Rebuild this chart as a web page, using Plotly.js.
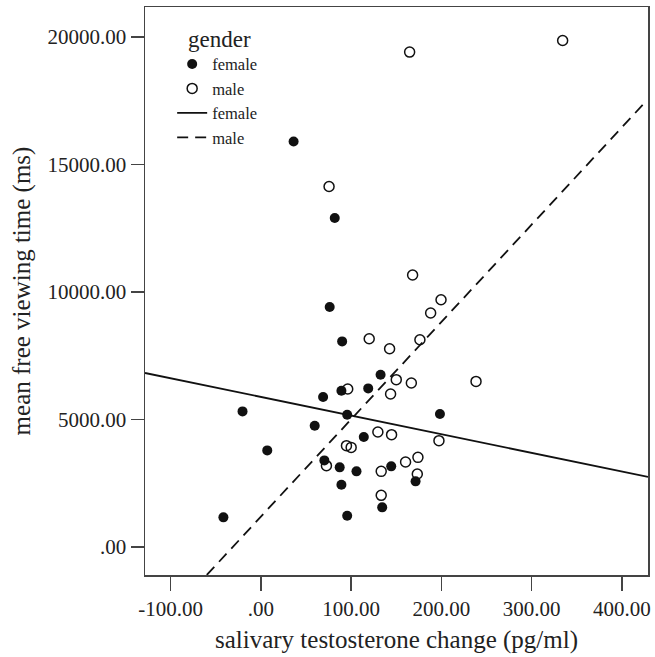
<!DOCTYPE html>
<html>
<head>
<meta charset="utf-8">
<script src="https://cdn.plot.ly/plotly-3.0.1.min.js"></script>
<style>
  html, body { margin: 0; padding: 0; background: #fff; }
  #chart { width: 655px; height: 657px; }
</style>
</head>
<body>
<div id="chart"></div>
<script>
// Female (filled circles)
const femaleX = [-41.6, -20.4, 7, 36.2, 81.8, 76.2, 90, 132.6, 118.9, 89.2, 68.9, 95.6, 198.4, 59.6, 114, 70.3, 87.3, 105.9, 144.4, 171.4, 89.2, 134.4, 95.6];
const femaleY = [1161, 5318, 3788, 15906, 12902, 9412, 8063, 6757, 6220, 6129, 5882, 5188, 5216, 4757, 4314, 3396, 3122, 2965, 3161, 2573, 2443, 1553, 1227];

// Male (open circles)
const maleX = [164.8, 334.4, 75.5, 168.1, 199.6, 188.1, 176.2, 120, 142.6, 238.4, 150, 166.7, 143.7, 96.2, 197.3, 129.6, 144.8, 94.8, 100, 72.6, 160.3, 174, 133.3, 173.3, 133.3];
const maleY = [19412, 19867, 14141, 10667, 9698, 9176, 8129, 8169, 7776, 6494, 6561, 6431, 6000, 6196, 4169, 4510, 4404, 3973, 3906, 3188, 3333, 3514, 2965, 2863, 2024];

// Fit lines (end points)
const femaleFitX = [-128.5, 429];
const femaleFitY = [6824, 2745];
const maleFitX = [-60, 425];
const maleFitY = [-1098, 17412];

// Ticks
const xTickVals = [-100, 0, 100, 200, 300, 400];
const xTickText = ['-100.00', '.00', '100.00', '200.00', '300.00', '400.00'];
const yTickVals = [0, 5000, 10000, 15000, 20000];
const yTickText = ['.00', '5000.00', '10000.00', '15000.00', '20000.00'];

const FONT = 'Liberation Serif, Times New Roman, serif';
const INK = '#222';

const traces = [
  {
    x: femaleX, y: femaleY, type: 'scatter', mode: 'markers', name: 'female',
    marker: { symbol: 'circle', size: 10, color: '#111' }
  },
  {
    x: maleX, y: maleY, type: 'scatter', mode: 'markers', name: 'male',
    marker: { symbol: 'circle-open', size: 10, color: '#111', line: { width: 1.5, color: '#111' } }
  },
  {
    x: femaleFitX, y: femaleFitY, type: 'scatter', mode: 'lines', name: 'female',
    line: { color: '#111', width: 1.8 }
  },
  {
    x: maleFitX, y: maleFitY, type: 'scatter', mode: 'lines', name: 'male',
    line: { color: '#111', width: 1.8, dash: '11px,7px' }
  }
];

const layout = {
  width: 655, height: 657,
  margin: { l: 145, r: 7, t: 7, b: 82 },
  paper_bgcolor: '#fff', plot_bgcolor: '#fff',
  font: { family: FONT, color: INK, size: 21 },
  showlegend: true,
  legend: {
    x: 0.054, y: 0.93, xanchor: 'left', yanchor: 'top',
    bgcolor: 'rgba(0,0,0,0)',
    font: { family: FONT, size: 16.5, color: INK },
    tracegroupgap: 0,
    itemwidth: 30
  },
  annotations: [
    {
      text: 'gender', xref: 'paper', yref: 'paper',
      x: 0.0815, y: 0.942, xanchor: 'left', yanchor: 'middle',
      showarrow: false, font: { family: FONT, size: 23, color: INK }
    }
  ],
  xaxis: {
    range: [-128.5, 429],
    tickvals: xTickVals, ticktext: xTickText,
    ticks: 'outside', ticklen: 14, tickwidth: 1.5, tickcolor: '#444',
    showline: true, linecolor: '#444', linewidth: 1.5, mirror: true,
    showgrid: false, zeroline: false,
    tickfont: { family: FONT, size: 21, color: INK },
    title: { text: 'salivary testosterone change (pg/ml)', font: { family: FONT, size: 25, color: INK }, standoff: 11 }
  },
  yaxis: {
    range: [-1100, 21180],
    tickvals: yTickVals, ticktext: yTickText,
    ticks: 'outside', ticklen: 13, tickwidth: 1.5, tickcolor: '#444',
    showline: true, linecolor: '#444', linewidth: 1.5, mirror: true,
    showgrid: false, zeroline: false,
    tickfont: { family: FONT, size: 21, color: INK },
    title: { text: 'mean free viewing time (ms)', font: { family: FONT, size: 25, color: INK }, standoff: 10 }
  }
};

Plotly.newPlot('chart', traces, layout, { displayModeBar: false, staticPlot: true });
</script>
</body>
</html>
